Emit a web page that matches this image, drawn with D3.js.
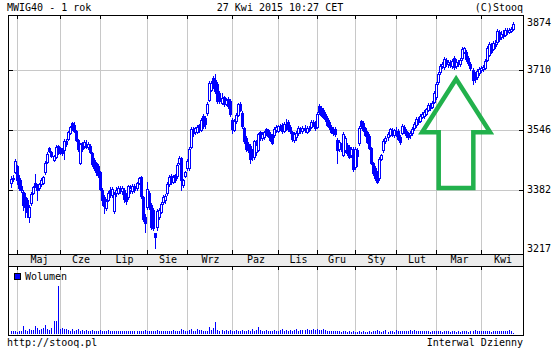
<!DOCTYPE html>
<html><head><meta charset="utf-8">
<script src="https://cdn.jsdelivr.net/npm/d3@7"></script>
<style>
body{margin:0;background:#fff}
text{font-family:"DejaVu Sans Mono",monospace;font-size:10px;fill:#000}
</style></head>
<body>
<svg id="c" width="560" height="350"></svg>
<script>
// ---------- data ----------
const titleText = "MWIG40 - 1 rok";
const dateText = "27 Kwi 2015 10:27 CET";
const copyText = "(C)Stooq";
const urlText = "http://stooq.pl";
const intervalText = "Interwal Dzienny";
const legendText = "Wolumen";

const monthLabels = ["Maj","Cze","Lip","Sie","Wrz","Paz","Lis","Gru","Sty","Lut","Mar","Kwi"];
const monthStart = [3,24,44,67,87,109,132,151,170,190,210,232]; // trading-day index of first session
const yTicks = [3217,3382,3546,3710,3874];

const open = [
3400,3411,3431,3447,3414,3392,3376,3362,3354,3307,
3346,3373,3400,3395,3387,3398,3400,3431,3458,3496,
3485,3463,3472,3502,3496,3494,3491,3516,3521,3537,
3565,3559,3543,3518,3455,3510,3502,3507,3499,3502,
3482,3463,3455,3447,3431,3381,3362,3332,3354,3381,
3368,3324,3373,3373,3387,3379,3381,3368,3362,3381,
3379,3392,3387,3400,3417,3362,3307,3335,3373,3340,
3327,3264,3280,3307,3321,3349,3354,3373,3398,3420,
3403,3422,3420,3455,3469,3395,3420,3441,3441,3499,
3548,3540,3540,3559,3546,3584,3578,3592,3628,3655,
3688,3682,3672,3647,3620,3636,3617,3630,3625,3573,
3546,3570,3587,3617,3592,3551,3524,3507,3502,3488,
3472,3485,3491,3540,3524,3526,3548,3546,3535,3529,
3532,3546,3543,3556,3559,3543,3559,3567,3554,3540,
3518,3526,3537,3548,3543,3551,3540,3551,3554,3567,
3565,3554,3611,3606,3600,3589,3578,3567,3554,3548,
3548,3518,3494,3504,3477,3491,3504,3499,3477,3494,
3444,3491,3510,3570,3565,3551,3540,3529,3496,3455,
3441,3431,3414,3466,3491,3516,3526,3532,3546,3532,
3543,3543,3526,3537,3554,3543,3535,3532,3537,3551,
3559,3573,3570,3581,3584,3589,3600,3611,3608,3622,
3636,3677,3704,3721,3718,3737,3726,3729,3721,3743,
3721,3732,3726,3743,3759,3759,3743,3726,3710,3699,
3691,3702,3710,3713,3715,3737,3751,3778,3767,3781,
3786,3814,3800,3808,3806,3817,3814,3817,3822];
const high = [
3420,3422,3466,3450,3422,3409,3381,3373,3359,3340,
3376,3392,3425,3398,3400,3414,3420,3461,3485,3499,
3488,3477,3504,3504,3499,3496,3521,3521,3543,3556,
3567,3567,3546,3521,3510,3513,3518,3518,3513,3507,
3485,3469,3458,3452,3433,3387,3368,3357,3379,3390,
3390,3376,3390,3392,3392,3392,3387,3373,3395,3395,
3398,3398,3403,3417,3420,3365,3316,3403,3379,3346,
3332,3264,3329,3332,3349,3368,3370,3403,3422,3425,
3422,3425,3455,3474,3472,3411,3433,3466,3499,3554,
3554,3554,3559,3562,3578,3589,3584,3622,3680,3680,
3693,3699,3677,3652,3647,3639,3633,3636,3630,3578,
3576,3592,3619,3622,3597,3554,3529,3513,3507,3494,
3518,3518,3537,3543,3540,3543,3551,3548,3540,3535,
3554,3559,3559,3562,3565,3567,3576,3573,3559,3543,
3540,3543,3556,3554,3556,3559,3556,3556,3573,3573,
3570,3595,3617,3611,3606,3595,3584,3573,3559,3554,
3554,3524,3518,3510,3540,3529,3510,3504,3499,3499,
3499,3496,3556,3573,3570,3554,3543,3535,3499,3458,
3447,3433,3472,3480,3521,3529,3540,3551,3551,3548,
3554,3548,3532,3562,3559,3548,3540,3543,3554,3567,
3581,3581,3589,3595,3600,3606,3619,3619,3625,3652,
3677,3704,3726,3732,3745,3743,3737,3737,3740,3748,
3740,3737,3743,3773,3773,3765,3748,3732,3715,3704,
3713,3718,3721,3724,3740,3775,3786,3784,3789,3792,
3822,3819,3817,3819,3825,3825,3825,3828,3840];
const low = [
3390,3406,3428,3398,3381,3376,3327,3307,3307,3294,
3340,3370,3390,3354,3381,3392,3398,3425,3455,3485,
3472,3461,3469,3480,3480,3477,3466,3502,3518,3535,
3546,3540,3516,3488,3452,3488,3496,3496,3494,3482,
3447,3436,3422,3417,3381,3340,3318,3327,3351,3362,
3362,3318,3365,3370,3373,3370,3349,3343,3357,3373,
3373,3376,3381,3398,3359,3296,3266,3329,3329,3275,
3272,3222,3272,3302,3318,3343,3346,3368,3392,3398,
3400,3403,3414,3452,3381,3390,3417,3436,3436,3496,
3529,3535,3537,3540,3543,3551,3551,3586,3625,3652,
3660,3647,3620,3620,3617,3611,3614,3606,3584,3537,
3543,3565,3584,3597,3551,3510,3488,3485,3455,3463,
3466,3477,3488,3518,3518,3521,3532,3526,3516,3507,
3526,3540,3540,3546,3537,3540,3546,3543,3537,3516,
3513,3518,3532,3537,3537,3540,3537,3543,3551,3556,
3546,3551,3589,3584,3578,3570,3556,3548,3537,3532,
3529,3455,3488,3488,3474,3485,3477,3469,3472,3433,
3439,3447,3504,3551,3543,3529,3510,3494,3452,3422,
3409,3400,3409,3463,3485,3510,3518,3529,3529,3526,
3529,3518,3507,3535,3537,3526,3521,3524,3532,3546,
3554,3562,3567,3578,3578,3587,3597,3600,3606,3619,
3630,3671,3699,3715,3713,3721,3718,3718,3715,3713,
3715,3721,3721,3737,3756,3734,3723,3710,3672,3677,
3685,3696,3704,3707,3713,3734,3748,3756,3765,3770,
3781,3789,3795,3797,3803,3808,3811,3814,3819];
const close = [
3411,3414,3461,3409,3387,3381,3340,3335,3321,3335,
3370,3390,3392,3381,3398,3409,3417,3455,3480,3488,
3474,3474,3499,3485,3482,3482,3516,3507,3540,3554,
3551,3543,3518,3494,3507,3494,3513,3499,3507,3485,
3452,3441,3431,3422,3384,3354,3337,3351,3373,3368,
3384,3370,3381,3387,3379,3387,3357,3351,3392,3387,
3392,3381,3400,3414,3365,3302,3291,3384,3335,3280,
3277,3253,3324,3327,3343,3362,3365,3398,3417,3403,
3417,3409,3450,3469,3409,3409,3431,3461,3494,3548,
3537,3551,3554,3546,3573,3556,3562,3617,3674,3674,
3666,3652,3625,3625,3633,3617,3628,3611,3589,3548,
3570,3587,3617,3600,3556,3516,3494,3491,3466,3472,
3516,3504,3535,3524,3535,3540,3535,3529,3518,3510,
3548,3554,3556,3551,3543,3562,3551,3548,3543,3521,
3535,3537,3551,3543,3551,3546,3551,3546,3567,3559,
3551,3589,3595,3587,3581,3576,3559,3554,3540,3537,
3535,3491,3513,3494,3535,3524,3482,3472,3494,3439,
3494,3474,3551,3556,3546,3532,3513,3496,3455,3428,
3414,3403,3466,3477,3516,3524,3535,3548,3535,3546,
3535,3521,3513,3556,3543,3532,3526,3537,3548,3562,
3576,3567,3584,3589,3595,3603,3614,3606,3619,3647,
3671,3699,3721,3726,3740,3726,3732,3724,3734,3718,
3732,3726,3737,3767,3770,3740,3729,3715,3682,3685,
3707,3713,3715,3718,3734,3770,3781,3759,3784,3775,
3817,3795,3808,3803,3819,3814,3819,3822,3836];
const volume = [
6,6,6,5,6,6,16,8,6,10,
8,8,16,12,8,10,12,18,10,8,
12,26,26,96,10,12,10,10,8,6,
10,6,8,10,6,8,6,8,7,6,
8,6,7,6,8,6,7,6,8,6,
6,7,6,6,7,6,7,6,6,7,
6,6,7,6,6,6,8,6,6,7,
6,6,8,6,6,7,6,6,7,6,
8,6,7,6,10,8,7,6,8,10,
6,7,10,8,8,7,6,7,14,8,
12,24,8,6,8,7,8,6,8,7,
6,8,6,7,8,6,7,8,7,10,
7,8,14,8,7,6,8,7,6,7,
8,7,6,8,10,7,8,6,9,7,
8,10,7,8,9,8,10,8,9,10,
8,10,9,8,10,8,7,6,6,7,
6,6,6,5,6,6,5,6,5,6,
5,5,6,5,6,5,5,6,5,6,
6,8,6,5,6,8,5,6,6,5,
8,6,6,6,6,7,6,8,6,8,
6,6,7,6,6,6,6,5,6,6,
6,7,6,5,6,6,6,5,6,7,
5,6,5,6,6,6,5,6,6,8,
6,6,6,7,6,6,6,5,6,6,
6,6,7,6,6,6,8,6,2];
// hand-drawn green arrow annotation, in (trading-day index, price)
const arrowPts = [[219.9,3685],[236.7,3539],[228.4,3539],[228.4,3387],[211.3,3387],[211.3,3539],[203.1,3539]];

// ---------- layout ----------
const L = 8, R = 523, T = 15, B = 254, BAND_B = 266, VOL_B = 335;
const blue = "#0000ff", grid = "#c8c8c8";
const svg = d3.select("#c");
const n = close.length;

const x = d3.scaleLinear().domain([0, n - 1]).range([11, 513]);
const y = d3.scaleLinear().domain([3217, 3874]).range([250, 10]);
const yv = d3.scaleLinear().domain([0, 100]).range([334, 284]);
const px = i => Math.round(x(i));

svg.append("rect").attr("width",560).attr("height",350).attr("fill","#fff");
// month band
svg.append("rect").attr("x",L).attr("y",B).attr("width",R-L).attr("height",BAND_B-B).attr("fill","#ececec");

// horizontal gridlines
const inner = yTicks.filter(v => y(v) > T + 2 && y(v) < B - 6);
svg.append("g").selectAll("line").data(inner).join("line")
  .attr("x1",L).attr("x2",R)
  .attr("y1",d=>Math.round(y(d))+0.5).attr("y2",d=>Math.round(y(d))+0.5)
  .attr("stroke",grid);
// vertical gridlines main + volume
const vg = svg.append("g");
vg.selectAll("line.m").data(monthStart).join("line").attr("class","m")
  .attr("x1",d=>px(d)+0.5).attr("x2",d=>px(d)+0.5).attr("y1",T).attr("y2",B).attr("stroke",grid);
vg.selectAll("line.v").data(monthStart).join("line").attr("class","v")
  .attr("x1",d=>px(d)+0.5).attr("x2",d=>px(d)+0.5).attr("y1",BAND_B).attr("y2",VOL_B).attr("stroke",grid);

// candles
const idx = d3.range(n);
const cg = svg.append("g");
idx.forEach(i => {
  const cx = px(i);
  const up = close[i] > open[i];
  const g = cg.append("g");
  g.append("line").attr("x1",cx+0.5).attr("x2",cx+0.5)
    .attr("y1",Math.round(y(high[i]))).attr("y2",Math.round(y(low[i]))+1)
    .attr("stroke",blue);
  const top = Math.round(y(Math.max(open[i],close[i])));
  const bot = Math.round(y(Math.min(open[i],close[i])));
  g.append("rect").attr("x",cx-0.5).attr("y",top+0.5)
    .attr("width",2).attr("height",Math.max(1,bot-top))
    .attr("fill", up ? "#fff" : blue).attr("stroke",blue).attr("stroke-width",1);
});

// volume bars
svg.append("g").selectAll("rect").data(idx).join("rect")
  .attr("x",i=>px(i)).attr("width",1)
  .attr("y",i=>Math.round(yv(volume[i]))).attr("height",i=>334-Math.round(yv(volume[i])))
  .attr("fill",blue);

// borders
const bd = svg.append("g").attr("fill","none").attr("stroke","#000");
bd.append("rect").attr("x",L+0.5).attr("y",T+0.5).attr("width",R-L).attr("height",B-T);
bd.append("rect").attr("x",L+0.5).attr("y",B+0.5).attr("width",R-L).attr("height",VOL_B-B);
bd.append("line").attr("x1",L).attr("x2",R+1).attr("y1",BAND_B+0.5).attr("y2",BAND_B+0.5);

// ticks
const tk = svg.append("g").attr("stroke","#000");
monthStart.forEach(d => {
  const xx = px(d)+0.5;
  tk.append("line").attr("x1",xx).attr("x2",xx).attr("y1",T).attr("y2",T+4);
  tk.append("line").attr("x1",xx).attr("x2",xx).attr("y1",B-4).attr("y2",B);
  tk.append("line").attr("x1",xx).attr("x2",xx).attr("y1",BAND_B).attr("y2",BAND_B+4);
});
inner.forEach(v => {
  const yy = Math.round(y(v))+0.5;
  tk.append("line").attr("x1",L).attr("x2",L+5).attr("y1",yy).attr("y2",yy);
  tk.append("line").attr("x1",R-4).attr("x2",R+1).attr("y1",yy).attr("y2",yy);
});

// y labels
svg.append("g").selectAll("text").data(yTicks).join("text")
  .attr("x",527).attr("y",d=>Math.max(22,Math.min(248,y(d)))+3.5).text(d=>d);

// month labels
const bounds = monthStart.map(px).concat([R]);
svg.append("g").selectAll("text").data(monthLabels).join("text")
  .attr("text-anchor","middle")
  .attr("x",(d,k)=> (bounds[k]+bounds[k+1])/2 + 1)
  .attr("y",263).text(d=>d);

// header / footer
svg.append("text").attr("x",7).attr("y",11).text(titleText);
svg.append("text").attr("x",280).attr("y",11).attr("text-anchor","middle").text(dateText);
svg.append("text").attr("x",523).attr("y",11).attr("text-anchor","end").text(copyText);
svg.append("text").attr("x",7).attr("y",346).text(urlText);
svg.append("text").attr("x",523).attr("y",346).attr("text-anchor","end").text(intervalText);

// legend
svg.append("rect").attr("x",14.5).attr("y",273.5).attr("width",6).attr("height",6)
  .attr("fill",blue).attr("stroke","#000");
svg.append("text").attr("x",25).attr("y",280).text(legendText);

// arrow annotation
svg.append("path")
  .attr("d", d3.line().x(p=>x(p[0])).y(p=>y(p[1])).curve(d3.curveLinearClosed)(arrowPts))
  .attr("fill","none").attr("stroke","#22b14c").attr("stroke-width",4.5).attr("stroke-linejoin","miter");
</script>
</body></html>
